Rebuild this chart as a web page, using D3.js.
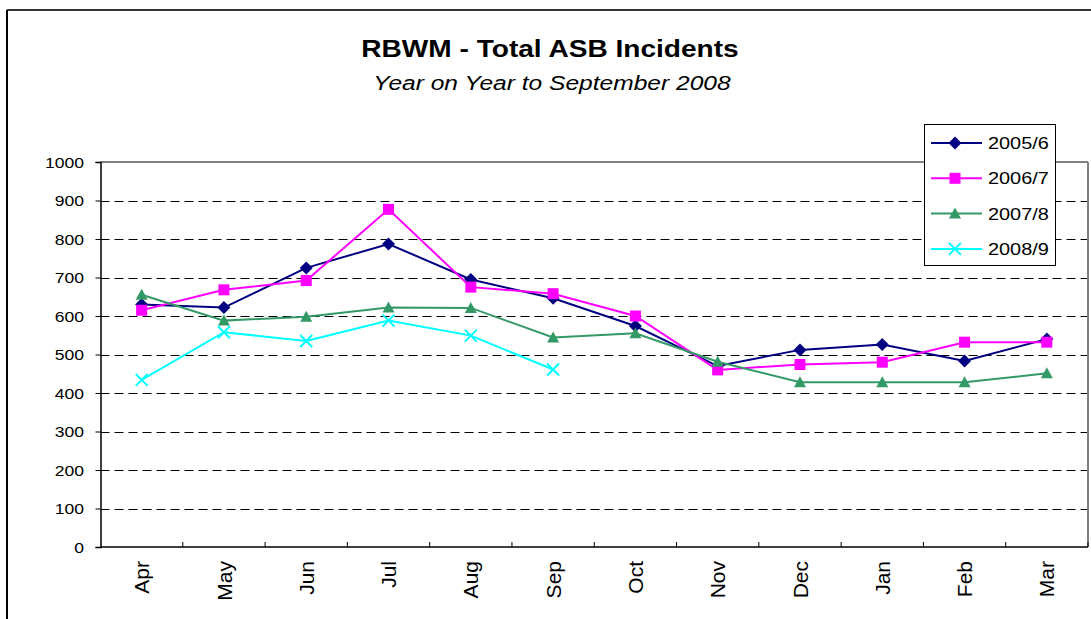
<!DOCTYPE html>
<html>
<head>
<meta charset="utf-8">
<script src="https://cdn.jsdelivr.net/npm/d3@7"></script>
<style>
  html, body { margin: 0; padding: 0; background: #fff; }
  svg { display: block; font-family: Arial, "Liberation Sans", sans-serif; }
</style>
</head>
<body>
<svg id="chart" width="1091" height="619"></svg>
<script>
// ---- data ----
const months = ["Apr","May","Jun","Jul","Aug","Sep","Oct","Nov","Dec","Jan","Feb","Mar"];
const seriesNames = ["2005/6","2006/7","2007/8","2008/9"];
const s2005 = [630, 622, 725, 787, 695, 646, 574, 470, 512, 526, 483, 540];
const s2006 = [615, 668, 692, 877, 675, 658, 600, 460, 474, 480, 532, 532];
const s2007 = [655, 588, 598, 622, 621, 544, 555, 481, 428, 428, 428, 451];
const s2008 = [434, 558, 535, 588, 549, 461];
const yTicks = [0,100,200,300,400,500,600,700,800,900,1000];
const titleText = "RBWM - Total ASB Incidents";
const subtitleText = "Year on Year to September 2008";

const colors = ["#000080", "#FF00FF", "#339966", "#00FFFF"];
const symbols = ["diamond", "square", "triangle", "cross"];
const allSeries = [s2005, s2006, s2007, s2008];

const svg = d3.select("#chart");
const SX = 1.17; // horizontal stretch of text in the reference

// outer frame
svg.append("line").attr("x1", 7).attr("x2", 1091).attr("y1", 10).attr("y2", 10)
  .attr("stroke", "#333").attr("stroke-width", 2);
svg.append("line").attr("x1", 7).attr("x2", 7).attr("y1", 10).attr("y2", 619)
  .attr("stroke", "#000").attr("stroke-width", 2);

// plot area
const pLeft = 100.5, pRight = 1088, pTop = 162, pBottom = 547;
const x = d3.scaleBand().domain(months).range([pLeft, pRight]).padding(0);
const y = d3.scaleLinear().domain([0, 1000]).range([pBottom, pTop]);

function stretchedText(g, tx, ty, txt, opts) {
  const t = g.append("g").attr("transform", `translate(${tx},${ty})`)
    .append("text").attr("transform", `scale(${SX},1)`)
    .attr("text-anchor", opts.anchor || "start")
    .attr("font-size", opts.size)
    .attr("fill", "#000")
    .text(txt);
  if (opts.weight) t.attr("font-weight", opts.weight);
  if (opts.style) t.attr("font-style", opts.style);
  if (opts.dy) t.attr("dy", opts.dy);
  return t;
}

// title
stretchedText(svg, 550, 57, titleText, {size: 24, weight: "bold", anchor: "middle"});
stretchedText(svg, 552, 90, subtitleText, {size: 21, style: "italic", anchor: "middle"});

// gridlines (dashed) except top
svg.append("g").selectAll("line").data(yTicks.filter(v => v > 0 && v < 1000)).join("line")
  .attr("x1", pLeft).attr("x2", pRight)
  .attr("y1", d => Math.round(y(d)) + 0.5).attr("y2", d => Math.round(y(d)) + 0.5)
  .attr("stroke", "#000").attr("stroke-width", 1).attr("stroke-dasharray", "9,5");

// top and right border of plot
svg.append("line").attr("x1", pLeft).attr("x2", pRight).attr("y1", pTop).attr("y2", pTop)
  .attr("stroke", "#808080").attr("stroke-width", 2);
svg.append("line").attr("x1", pRight).attr("x2", pRight).attr("y1", pTop).attr("y2", pBottom)
  .attr("stroke", "#808080").attr("stroke-width", 2);

// y axis
const yAxis = d3.axisLeft(y).tickValues(yTicks).tickSize(5).tickPadding(12).tickFormat(d3.format("d"));
const gy = svg.append("g").attr("transform", `translate(${pLeft},0)`).call(yAxis);
gy.select(".domain").attr("stroke", "#000").attr("stroke-width", 1.5);
gy.selectAll(".tick line").attr("stroke", "#000");
gy.selectAll(".tick text").each(function(d) {
  const sel = d3.select(this);
  sel.attr("font-size", 15).attr("font-family", "Arial, 'Liberation Sans', sans-serif")
     .attr("fill", "#000").attr("dy", "0.35em")
     .attr("transform", `translate(-16.5,0) scale(${SX},1)`).attr("x", 0);
});

// x axis: ticks at category boundaries pointing inward
const gx = svg.append("g").attr("transform", `translate(0,${pBottom})`);
gx.append("line").attr("x1", pLeft).attr("x2", pRight).attr("y1", 0).attr("y2", 0)
  .attr("stroke", "#000").attr("stroke-width", 1.5);
const boundaries = months.map(m => x(m)).concat([pRight]);
gx.selectAll("line.tk").data(boundaries.slice(1)).join("line").attr("class", "tk")
  .attr("x1", d => d).attr("x2", d => d).attr("y1", 0).attr("y2", -5)
  .attr("stroke", "#000");
gx.selectAll("text.lbl").data(months).join("text").attr("class", "lbl")
  .attr("transform", d => `translate(${x(d) + x.bandwidth() / 2},14) rotate(-90)`)
  .attr("text-anchor", "end").attr("dy", "0.36em")
  .attr("font-size", 21).attr("fill", "#000")
  .text(d => d);

// series lines and markers
const line = d3.line().x((d, i) => x(months[i]) + x.bandwidth() / 2).y(d => y(d));
function drawMarker(g, type, cx, cy, color) {
  if (type === "diamond") {
    g.append("path").attr("d", `M${cx},${cy-6.5}L${cx+6.5},${cy}L${cx},${cy+6.5}L${cx-6.5},${cy}Z`).attr("fill", color);
  } else if (type === "square") {
    g.append("rect").attr("x", cx - 5.5).attr("y", cy - 5.5).attr("width", 11).attr("height", 11).attr("fill", color);
  } else if (type === "triangle") {
    g.append("path").attr("d", `M${cx},${cy-6}L${cx+6},${cy+5}L${cx-6},${cy+5}Z`).attr("fill", color);
  } else {
    g.append("path").attr("d", `M${cx-6},${cy-6}L${cx+6},${cy+6}M${cx-6},${cy+6}L${cx+6},${cy-6}`)
      .attr("stroke", color).attr("stroke-width", 2).attr("fill", "none");
  }
}
allSeries.forEach((s, k) => {
  const g = svg.append("g");
  g.append("path").datum(s).attr("d", line).attr("fill", "none")
    .attr("stroke", colors[k]).attr("stroke-width", 2);
  s.forEach((v, i) => drawMarker(g, symbols[k], x(months[i]) + x.bandwidth() / 2, y(v), colors[k]));
});

// legend
const lg = svg.append("g");
lg.append("rect").attr("x", 924.5).attr("y", 124.5).attr("width", 131).attr("height", 141)
  .attr("fill", "#fff").attr("stroke", "#000").attr("stroke-width", 1);
seriesNames.forEach((n, k) => {
  const ly = 143 + k * 35.3;
  lg.append("line").attr("x1", 931).attr("x2", 982).attr("y1", ly).attr("y2", ly)
    .attr("stroke", colors[k]).attr("stroke-width", 2);
  drawMarker(lg, symbols[k], 955, ly, colors[k]);
  stretchedText(lg, 988, ly, n, {size: 17, dy: "0.35em"});
});
</script>
</body>
</html>
